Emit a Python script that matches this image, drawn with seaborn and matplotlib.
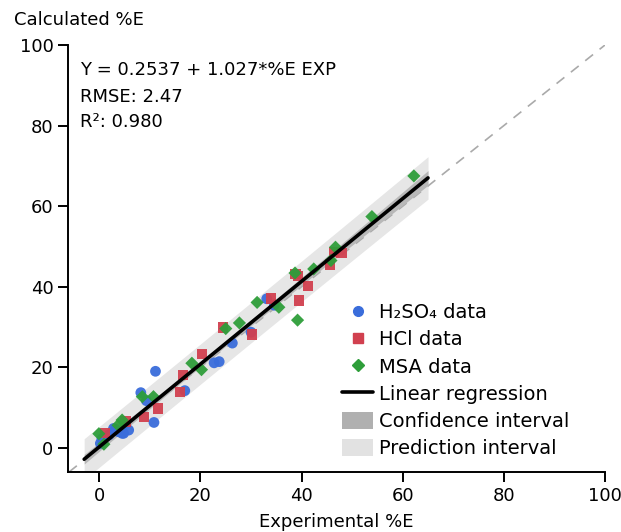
import numpy as np
import pandas as pd
import matplotlib
matplotlib.use("Agg")
import matplotlib.pyplot as plt
import seaborn as sns
from matplotlib.lines import Line2D
from matplotlib.patches import Patch

# ---------------- data ----------------
h2so4_x = [0.2, 0.5, 1.9, 2.8, 3.2, 3.8, 4.5, 4.8, 5.8, 8.2, 9.3, 10.8, 11.1, 16.9, 22.7, 23.7, 26.3, 30.0, 33.1, 34.6]
h2so4_y = [1.1, 2.2, 3.2, 4.8, 4.6, 4.0, 3.6, 3.6, 4.4, 13.7, 11.7, 6.3, 19.0, 14.2, 21.1, 21.4, 26.0, 28.7, 37.0, 35.4]

hcl_x = [1.1, 5.2, 8.8, 11.6, 16.0, 16.5, 20.3, 24.4, 30.2, 33.9, 38.8, 39.3, 39.5, 41.2, 45.6, 46.4, 47.9]
hcl_y = [3.6, 6.5, 7.7, 9.8, 13.9, 18.1, 23.3, 29.9, 28.1, 37.1, 43.1, 42.6, 36.6, 40.2, 45.5, 48.7, 48.3]

msa_x = [-0.1, 0.9, 3.7, 4.5, 8.5, 10.7, 18.3, 20.2, 25.0, 27.7, 31.2, 35.5, 38.7, 39.2, 42.4, 45.8, 46.7, 53.9, 62.2]
msa_y = [3.5, 0.9, 5.6, 6.9, 12.7, 12.7, 21.0, 19.4, 29.6, 31.0, 36.1, 34.9, 43.4, 31.7, 44.4, 46.5, 49.8, 57.4, 67.5]

intercept = 0.2537
slope = 1.027
rmse = 2.47
r2 = 0.980
fit_range = [-3, 65]

series_labels = ["H\u2082SO\u2084 data", "HCl data", "MSA data"]
x_ticks = [0, 20, 40, 60, 80, 100]
y_ticks = [0, 20, 40, 60, 80, 100]

# ---------------- styling ----------------
colors = {"H\u2082SO\u2084 data": "#3a6ddb", "HCl data": "#d1404f", "MSA data": "#2e9e3a"}
markers = {"H\u2082SO\u2084 data": "o", "HCl data": "s", "MSA data": "D"}
sizes = {"H\u2082SO\u2084 data": 60, "HCl data": 55, "MSA data": 45}

sns.set_theme(style="ticks")
plt.rcParams["font.family"] = ["DejaVu Sans"]
plt.rcParams["text.color"] = "black"
plt.rcParams["axes.labelcolor"] = "black"

df = pd.concat([
    pd.DataFrame({"x": h2so4_x, "y": h2so4_y, "set": series_labels[0]}),
    pd.DataFrame({"x": hcl_x, "y": hcl_y, "set": series_labels[1]}),
    pd.DataFrame({"x": msa_x, "y": msa_y, "set": series_labels[2]}),
], ignore_index=True)

fig = plt.figure(figsize=(6.21, 5.32), dpi=100)
ax = fig.add_axes([68 / 621, 1 - 472 / 532, (605 - 68) / 621, (472 - 45) / 532])

# regression bands
xs = np.linspace(fit_range[0], fit_range[1], 200)
yfit = intercept + slope * xs
xall = df["x"].to_numpy()
n = len(xall)
xm = xall.mean()
sxx = ((xall - xm) ** 2).sum()
tval = 2.004
ci = tval * rmse * np.sqrt(1.0 / n + (xs - xm) ** 2 / sxx)
pi = tval * rmse * np.sqrt(1 + 1.0 / n + (xs - xm) ** 2 / sxx)

ax.fill_between(xs, yfit - pi, yfit + pi, color="#e6e6e6", lw=0, zorder=1)
ax.fill_between(xs, yfit - ci, yfit + ci, color="#b8b8b8", lw=0, zorder=1.5)

# identity line
ax.axline((0, 0), slope=1, color="#aaaaaa", lw=1.2, ls=(0, (6, 5)), zorder=1.2)

for lab in series_labels:
    sub = df[df["set"] == lab]
    sns.scatterplot(data=sub, x="x", y="y", ax=ax, color=colors[lab], marker=markers[lab],
                    s=sizes[lab], edgecolor="none", alpha=0.95, zorder=3, legend=False)

ax.plot(xs, yfit, color="black", lw=2.6, zorder=4)

ax.set_xlim(-6.2, 100)
ax.set_ylim(-6, 100)
ax.set_xticks(x_ticks)
ax.set_yticks(y_ticks)
sns.despine(ax=ax)
for sp in ["left", "bottom"]:
    ax.spines[sp].set_linewidth(1.4)
    ax.spines[sp].set_color("black")
ax.tick_params(axis="both", direction="out", length=7, width=1.4, labelsize=13, pad=3.5,
               colors="black", labelcolor="black")
ax.set_xlabel("Experimental %E", fontsize=13, labelpad=6, color="black")
ax.set_ylabel("")
fig.text(14 / 621, 1 - 20 / 532, "Calculated %E", fontsize=13, ha="left", va="center", color="black")

ax.text(0.022, 0.9415, f"Y = {intercept} + {slope}*%E EXP", transform=ax.transAxes, fontsize=13, va="center", color="black")
ax.text(0.022, 0.878, f"RMSE: {rmse}", transform=ax.transAxes, fontsize=13, va="center", color="black")
ax.text(0.022, 0.82, f"R\u00b2: {r2:.3f}", transform=ax.transAxes, fontsize=13, va="center", color="black")

handles = [
    Line2D([], [], ls="none", marker="o", color=colors[series_labels[0]], markersize=7),
    Line2D([], [], ls="none", marker="s", color=colors[series_labels[1]], markersize=6.5),
    Line2D([], [], ls="none", marker="D", color=colors[series_labels[2]], markersize=6),
    Line2D([], [], color="black", lw=2.6),
    Patch(facecolor="#b0b0b0", edgecolor="none"),
    Patch(facecolor="#e2e2e2", edgecolor="none"),
]
labels = series_labels + ["Linear regression", "Confidence interval", "Prediction interval"]
leg = fig.legend(handles, labels, loc="upper left", bbox_to_anchor=(342 / 621, 1 - 303 / 532),
                 frameon=False, fontsize=14, borderpad=0, borderaxespad=0,
                 handlelength=1.6, handleheight=0.95, handletextpad=0.3, labelspacing=0.42,
                 labelcolor="black")

fig.savefig("out.png", dpi=100)
